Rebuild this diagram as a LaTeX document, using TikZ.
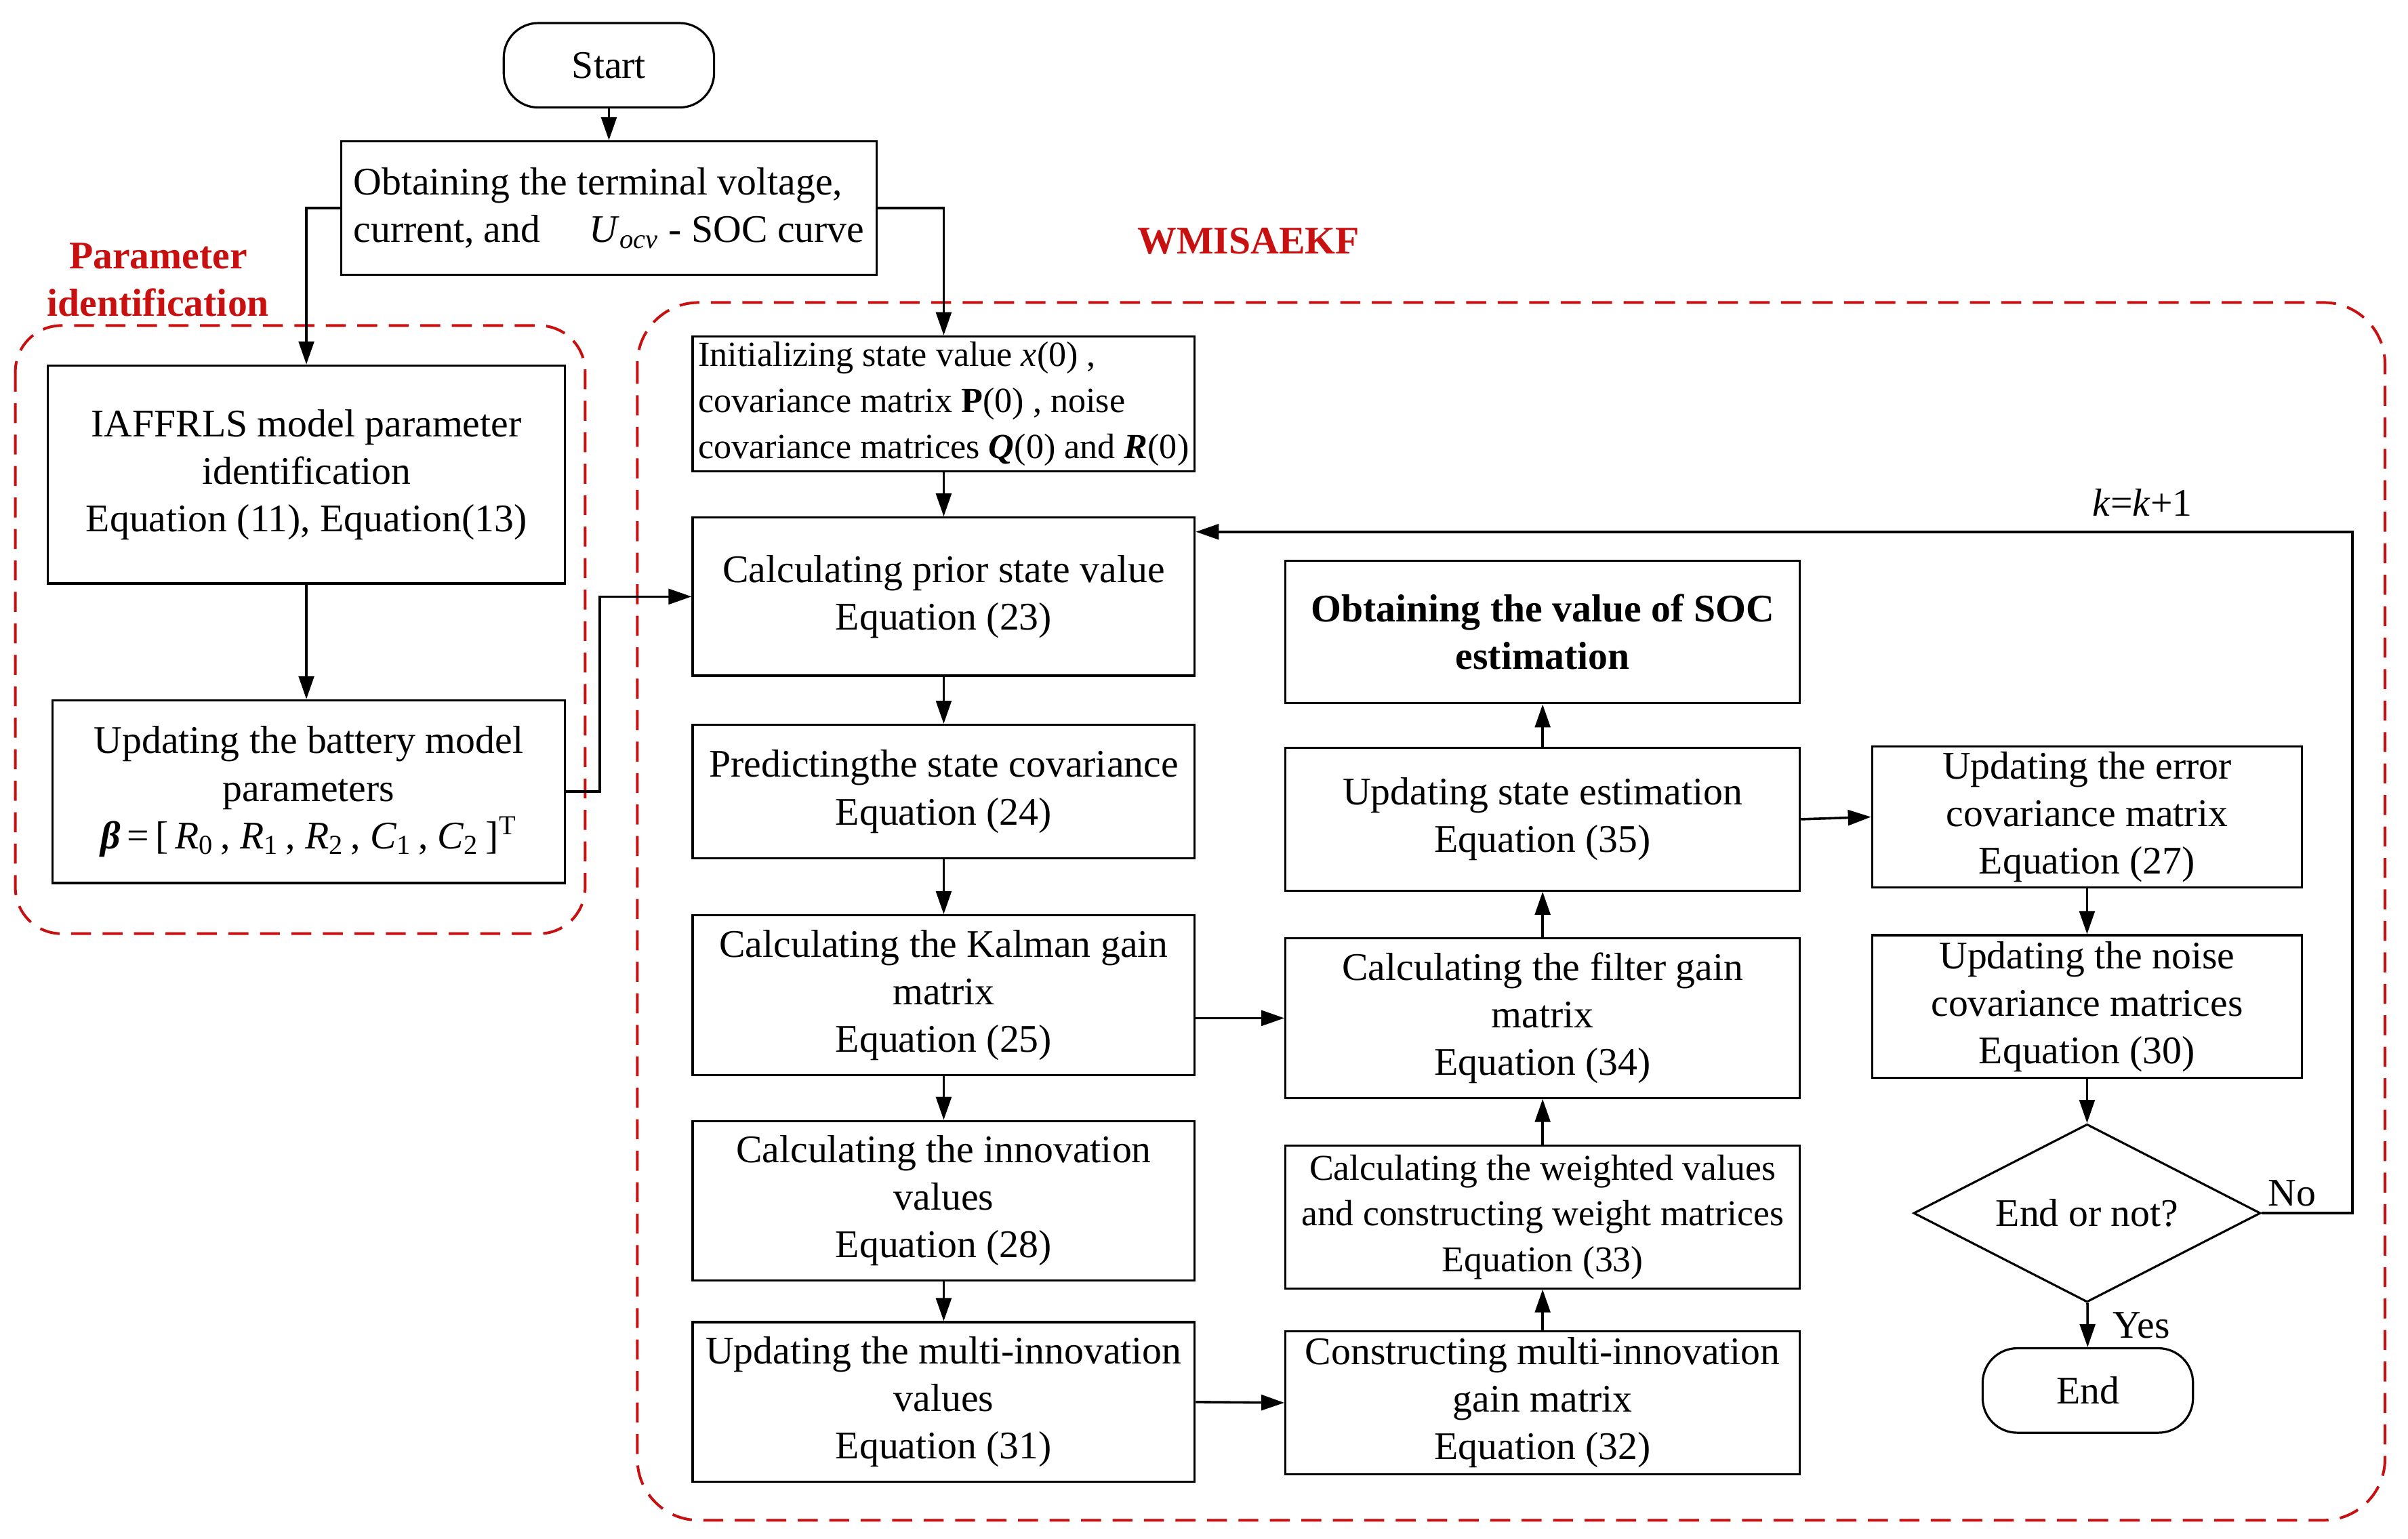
\documentclass[tikz,border=0pt]{standalone}
\usepackage{fontspec}
\setmainfont{Liberation Serif}
\usetikzlibrary{arrows.meta, shapes.geometric, positioning, calc}
\definecolor{frameRed}{RGB}{200,16,16}
\newcommand{\boxfont}{\fontsize{14.5}{17.6}\selectfont}
\newcommand{\tightfont}{\fontsize{13.5}{17}\selectfont}
\newcommand{\initfont}{\fontsize{13.1}{17}\selectfont}

\begin{document}
\begin{tikzpicture}[x=0.02cm, y=-0.02cm, >={Triangle[width=0.2cm,length=0.3cm]},
    stepbox/.style={draw, line width=0.8pt, align=center, inner sep=1pt, font=\boxfont},
    terminal/.style={draw, line width=0.8pt, rounded corners=0.45cm,
      minimum width=2.74cm, minimum height=1.1cm, font=\boxfont},
    flowline/.style={->, line width=0.9pt},
    groupframe/.style={draw=frameRed, line width=1pt, dash pattern=on 0.26cm off 0.15cm},
    grouptitle/.style={text=frameRed, font=\boxfont\bfseries, align=center}]

    \useasboundingbox (0,0) rectangle (1568,1002);

    % --- Dashed group frames ---
    \draw[groupframe, rounded corners=0.6cm] (10,212) rectangle (381,608);
    \draw[groupframe, rounded corners=0.8cm] (415,197) rectangle (1553,990);
    \node[grouptitle] (ptitle) at (103,182) {Parameter\\identification};
    \node[grouptitle] (wtitle) at (813,157) {WMISAEKF};

    % --- Start and measured data ---
    \node[terminal] (start) at (396.5,42.5) {Start};
    \node[stepbox, align=left, minimum width=6.98cm, minimum height=1.74cm] (obtain) at (396.5,135.5)
      {Obtaining the terminal voltage,\\current, and \quad\textit{U}\textsubscript{\textit{ocv}} - SOC curve};

    % --- Parameter identification column ---
    \node[stepbox, minimum width=6.74cm, minimum height=2.84cm] (iaffrls) at (199.5,309)
      {IAFFRLS model parameter\\identification\\Equation (11), Equation(13)};
    \node[stepbox, minimum width=6.68cm, minimum height=2.38cm] (battery) at (201,515.5)
      {Updating the battery model\\parameters\\{\bfseries\itshape β}\,=\,[\,\textit{R}\textsubscript{0}\,, \textit{R}\textsubscript{1}\,, \textit{R}\textsubscript{2}\,, \textit{C}\textsubscript{1}\,, \textit{C}\textsubscript{2}\,]\textsuperscript{T}};

    % --- Left column of the filter ---
    \node[stepbox, align=left, font=\initfont, minimum width=6.54cm, minimum height=1.76cm] (init) at (614.5,263)
      {Initializing state value \textit{x}(0) ,\\covariance matrix \textbf{P}(0) , noise\\covariance matrices \textit{\textbf{Q}}(0) and \textit{\textbf{R}}(0)};
    \node[stepbox, minimum width=6.54cm, minimum height=2.06cm] (prior) at (614.5,388.5)
      {Calculating prior state value\\Equation (23)};
    \node[stepbox, minimum width=6.54cm, minimum height=1.74cm] (predict) at (614.5,515.5)
      {Predictingthe state covariance\\Equation (24)};
    \node[stepbox, minimum width=6.54cm, minimum height=2.08cm] (kalman) at (614.5,648)
      {Calculating the Kalman gain\\matrix\\Equation (25)};
    \node[stepbox, minimum width=6.54cm, minimum height=2.08cm] (innov) at (614.5,782)
      {Calculating the innovation\\values\\Equation (28)};
    \node[stepbox, minimum width=6.54cm, minimum height=2.08cm] (multi) at (614.5,913)
      {Updating the multi-innovation\\values\\Equation (31)};

    % --- Middle column ---
    \node[stepbox, font=\boxfont\bfseries, minimum width=6.7cm, minimum height=1.86cm] (soc) at (1004.5,411.5)
      {Obtaining the value of SOC\\estimation};
    \node[stepbox, minimum width=6.7cm, minimum height=1.86cm] (state) at (1004.5,533.5)
      {Updating state estimation\\Equation (35)};
    \node[stepbox, minimum width=6.7cm, minimum height=2.08cm] (filter) at (1004.5,663)
      {Calculating the filter gain\\matrix\\Equation (34)};
    \node[stepbox, font=\tightfont, minimum width=6.7cm, minimum height=1.86cm] (weight) at (1004.5,792.5)
      {Calculating the weighted values\\and constructing weight matrices\\Equation (33)};
    \node[stepbox, minimum width=6.7cm, minimum height=1.86cm] (mgain) at (1004.5,913.5)
      {Constructing multi-innovation\\gain matrix\\Equation (32)};

    % --- Right column ---
    \node[stepbox, minimum width=5.6cm, minimum height=1.84cm] (errcov) at (1359,532)
      {Updating the error\\covariance matrix\\Equation (27)};
    \node[stepbox, minimum width=5.6cm, minimum height=1.86cm] (noise) at (1359,655.5)
      {Updating the noise\\covariance matrices\\Equation (30)};
    \node[draw, line width=0.8pt, diamond, aspect=1.95, inner sep=0pt, minimum width=4.52cm,
      minimum height=2.32cm, font=\boxfont] (check) at (1359,790) {End or not?};
    \node[terminal] (finish) at (1359.5,905.5) {End};

    % --- Connectors ---
    \draw[flowline] (start) -- (obtain);
    \draw[flowline] (obtain.west) -| (iaffrls.north);
    \draw[flowline] (obtain.east) -| (init.north);
    \draw[flowline] (iaffrls.south) -- (iaffrls.south |- battery.north);
    \draw[flowline] (battery.east) -- ++(22,0) |- (prior.west);
    \foreach \a/\b in {init/prior, prior/predict, predict/kalman, kalman/innov, innov/multi} {
      \draw[flowline] (\a) -- (\b);
    }
    \foreach \a/\b in {mgain/weight, weight/filter, filter/state, state/soc} {
      \draw[flowline] (\a) -- (\b);
    }
    \draw[flowline] (filter.west -| kalman.east) -- (filter.west);
    \draw[flowline] (multi.east) -- (mgain.west);
    \draw[flowline] (state.east) -- (errcov.west);
    \draw[flowline] (errcov) -- (noise);
    \draw[flowline] (noise) -- (check);
    \draw[flowline] (check) -- (finish) node[pos=0.5, anchor=west, xshift=0.2cm, font=\boxfont] (yes) {Yes};
    \draw[flowline] (check.east) node[above right, inner sep=2pt, font=\boxfont] (no) {No}
      -- ++(59,0) |- ([yshift=-0.2cm]prior.north east);
    \node[font=\boxfont] (counter) at (1395,327) {\textit{k}=\textit{k}+1};

\end{tikzpicture}
\end{document}
